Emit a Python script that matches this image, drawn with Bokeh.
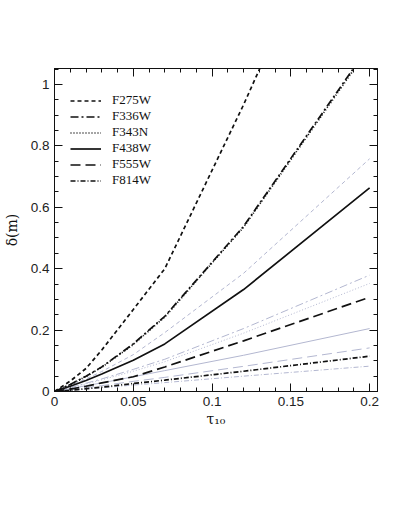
from bokeh.plotting import figure
from bokeh.models import Range1d, LinearAxis, FixedTicker, Legend, LegendItem
from bokeh.embed import file_html
from bokeh.resources import INLINE

# --- data -------------------------------------------------------------
tau = [0, 0.01, 0.02, 0.03, 0.05, 0.07, 0.12, 0.2]

filters = ["F275W", "F336W", "F343N", "F438W", "F555W", "F814W"]

# black (thick) curves
f275w_black = [0, 0.034, 0.075, 0.135, 0.267, 0.400, 0.934, 1.850]
f336w_black = [0, 0.023, 0.050, 0.080, 0.155, 0.245, 0.538, 1.128]
f343n_black = [0, 0.022, 0.049, 0.079, 0.153, 0.243, 0.535, 1.122]
f438w_black = [0, 0.017, 0.036, 0.057, 0.102, 0.155, 0.332, 0.663]
f555w_black = [0, 0.008, 0.017, 0.028, 0.048, 0.080, 0.165, 0.307]
f814w_black = [0, 0.004, 0.009, 0.014, 0.026, 0.037, 0.066, 0.115]

# grey (thin) curves
f275w_grey = [0, 0.019, 0.041, 0.065, 0.120, 0.192, 0.385, 0.758]
f336w_grey = [0, 0.013, 0.027, 0.041, 0.072, 0.105, 0.205, 0.379]
f343n_grey = [0, 0.012, 0.025, 0.038, 0.066, 0.097, 0.190, 0.352]
f438w_grey = [0, 0.009, 0.019, 0.028, 0.048, 0.068, 0.118, 0.205]
f555w_grey = [0, 0.006, 0.013, 0.019, 0.033, 0.046, 0.082, 0.142]
f814w_grey = [0, 0.004, 0.008, 0.012, 0.021, 0.029, 0.050, 0.0825]

x_ticks = [0, 0.05, 0.1, 0.15, 0.2]
x_tick_labels = ["0", "0.05", "0.1", "0.15", "0.2"]
x_minor = [i / 100 for i in range(0, 21)]
y_ticks = [0, 0.2, 0.4, 0.6, 0.8, 1.0]
y_tick_labels = ["0", "0.2", "0.4", "0.6", "0.8", "1"]
y_minor = [i * 0.05 for i in range(0, 22)]

# --- styles -----------------------------------------------------------
dashes = {
    "F275W": "4 3",
    "F336W": "8 3 2 3",
    "F343N": "1 2",
    "F438W": "solid",
    "F555W": "10 5",
    "F814W": "5 2 1 2",
}
BLACK = "#111111"
GREY = "#b3b7d0"

p = figure(
    frame_width=323, frame_height=323,
    min_border_left=45, min_border_top=68, min_border_right=26, min_border_bottom=80,
    x_range=Range1d(0, 0.205), y_range=Range1d(0, 1.052),
    output_backend="svg", toolbar_location=None,
    x_axis_label="τ₁₀", y_axis_label="δ(m)",
)
p.grid.visible = False
p.outline_line_color = BLACK
p.background_fill_color = "white"
p.border_fill_color = "white"

grey_series = [f275w_grey, f336w_grey, f343n_grey, f438w_grey, f555w_grey, f814w_grey]
black_series = [f275w_black, f336w_black, f343n_black, f438w_black, f555w_black, f814w_black]

for name, ys in zip(filters, grey_series):
    p.line(tau, ys, line_color=GREY, line_width=1.0, line_dash=dashes[name])

items = []
for name, ys in zip(filters, black_series):
    r = p.line(tau, ys, line_color=BLACK, line_width=1.7, line_dash=dashes[name])
    items.append(LegendItem(label=name, renderers=[r]))

# --- axes -------------------------------------------------------------
xt = FixedTicker(ticks=x_ticks, minor_ticks=x_minor)
yt = FixedTicker(ticks=y_ticks, minor_ticks=y_minor)


def style_axis(ax):
    ax.axis_line_color = BLACK
    ax.major_tick_line_color = BLACK
    ax.minor_tick_line_color = BLACK
    ax.major_tick_in = 8
    ax.major_tick_out = 0
    ax.minor_tick_in = 4
    ax.minor_tick_out = 0
    ax.major_label_text_font = "Liberation Sans"
    ax.major_label_text_font_size = "13.5px"
    ax.major_label_text_color = "#222222"
    ax.axis_label_text_font = "DejaVu Serif"
    ax.axis_label_text_font_style = "normal"
    ax.axis_label_text_font_size = "14px"
    ax.axis_label_text_color = "#111111"


xa = p.xaxis[0]
xa.ticker = xt
xa.major_label_overrides = dict(zip(x_ticks, x_tick_labels))
style_axis(xa)
xa.major_label_standoff = 5
xa.axis_label_standoff = 2

ya = p.yaxis[0]
ya.ticker = yt
ya.major_label_overrides = dict(zip(y_ticks, y_tick_labels))
style_axis(ya)
ya.major_label_standoff = 5
ya.axis_label_standoff = 8

top = LinearAxis(ticker=xt, major_label_overrides={t: "" for t in x_ticks})
style_axis(top)
p.add_layout(top, "above")
right = LinearAxis(ticker=yt, major_label_overrides={t: "" for t in y_ticks})
style_axis(right)
p.add_layout(right, "right")

# --- legend -----------------------------------------------------------
legend = Legend(
    items=items, location=(16, 203),
    border_line_color=None, background_fill_alpha=0,
    label_text_font="Liberation Serif", label_text_font_size="13px",
    label_text_color="#111111",
    glyph_width=31, glyph_height=13, label_height=13,
    label_standoff=11, spacing=0, padding=0, margin=0,
)
p.add_layout(legend, "center")

open("out.html", "w").write(file_html(p, INLINE))
